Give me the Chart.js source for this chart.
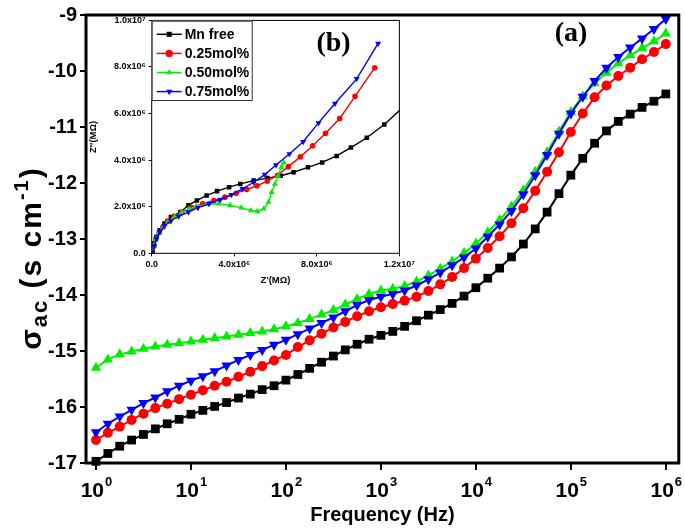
<!DOCTYPE html>
<html>
<head>
<meta charset="utf-8">
<script src="https://cdn.jsdelivr.net/npm/chart.js@4.4.0/dist/chart.umd.min.js"></script>
<style>
  body { margin: 0; background: #fff; }
  #wrap { position: relative; width: 685px; height: 528px; }
  #main { position: absolute; left: 0; top: 0; }
  #inset { position: absolute; left: 88px; top: 12px; }
</style>
</head>
<body>
<div id="wrap">
  <canvas id="main" width="685" height="528"></canvas>
  <canvas id="inset" width="330" height="282"></canvas>
</div>
<script>
// (a) conductivity vs frequency
const freq = [
  1, 1.334, 1.778, 2.371, 3.162, 4.217, 5.623, 7.499,
  10, 13.34, 17.78, 23.71, 31.62, 42.17, 56.23, 74.99,
  100, 133.4, 177.8, 237.1, 316.2, 421.7, 562.3, 749.9,
  1000, 1334, 1778, 2371, 3162, 4217, 5623, 7499,
  10000, 13340, 17780, 23710, 31620, 42170, 56230, 74990,
  100000, 133400, 177800, 237100, 316200, 421700, 562300, 749900,
  1000000
];
const mnFree = [
  -16.97, -16.83, -16.70, -16.59, -16.49, -16.39, -16.30, -16.22, -16.13, -16.06, -15.99, -15.92, -15.84, -15.77, -15.69, -15.62, -15.52,
  -15.42, -15.31, -15.20, -15.09, -14.98, -14.88, -14.79, -14.72, -14.65, -14.56, -14.46, -14.36, -14.26, -14.15, -14.02, -13.87,
  -13.70, -13.52, -13.32, -13.09, -12.82, -12.52, -12.19, -11.86, -11.56, -11.29, -11.07, -10.90, -10.77, -10.65, -10.54, -10.41
];
const mol025 = [
  -16.59, -16.46, -16.35, -16.23, -16.12, -16.02, -15.94, -15.86, -15.78, -15.70, -15.62, -15.55, -15.46, -15.37, -15.27, -15.17, -15.07,
  -14.93, -14.81, -14.69, -14.58, -14.48, -14.38, -14.29, -14.22, -14.16, -14.10, -14.03, -13.93, -13.81, -13.68, -13.52, -13.35,
  -13.16, -12.95, -12.72, -12.45, -12.14, -11.80, -11.45, -11.09, -10.76, -10.47, -10.26, -10.09, -9.94, -9.79, -9.66, -9.52
];
const mol050 = [
  -15.30, -15.15, -15.06, -15.01, -14.96, -14.92, -14.89, -14.86, -14.83, -14.80, -14.77, -14.74, -14.71, -14.68, -14.65, -14.61, -14.56,
  -14.50, -14.43, -14.35, -14.27, -14.17, -14.07, -13.98, -13.92, -13.89, -13.84, -13.76, -13.65, -13.53, -13.40, -13.25, -13.08,
  -12.88, -12.66, -12.42, -12.13, -11.80, -11.45, -11.08, -10.73, -10.45, -10.22, -10.03, -9.86, -9.72, -9.59, -9.47, -9.33
];
const mol075 = [
  -16.45, -16.30, -16.17, -16.05, -15.93, -15.83, -15.72, -15.62, -15.53, -15.45, -15.36, -15.26, -15.16, -15.07, -14.98, -14.89, -14.80,
  -14.70, -14.60, -14.50, -14.40, -14.29, -14.18, -14.09, -14.03, -13.98, -13.92, -13.83, -13.72, -13.60, -13.47, -13.33, -13.17,
  -12.96, -12.74, -12.50, -12.20, -11.86, -11.50, -11.12, -10.76, -10.46, -10.18, -9.94, -9.75, -9.58, -9.42, -9.25, -9.07
];
const seriesNames = ["Mn free", "0.25mol%", "0.50mol%", "0.75mol%"];
const xExponents = [0, 1, 2, 3, 4, 5, 6];

// (b) Nyquist inset, Z' and Z'' in units of 10^6
const nyqMnFreeRe = [0.02, 0.05, 0.11, 0.23, 0.39, 0.62, 0.93, 1.39, 1.78, 2.19, 2.66, 3.17, 3.75, 4.29, 4.94, 5.61, 6.25, 6.87, 7.57, 8.26, 8.96, 9.65, 10.42, 11.27, 12.15];
const nyqMnFreeIm = [0.0, 0.07, 0.43, 0.71, 0.99, 1.28, 1.56, 1.77, 2.06, 2.27, 2.48, 2.67, 2.84, 2.98, 3.12, 3.23, 3.33, 3.48, 3.69, 3.90, 4.18, 4.54, 4.96, 5.53, 6.25];
const nyq025Re = [0.02, 0.11, 0.20, 0.36, 0.54, 0.77, 1.08, 1.47, 1.93, 2.47, 3.01, 3.55, 4.09, 4.60, 5.10, 5.60, 6.10, 6.62, 7.20, 7.80, 8.42, 9.11, 9.85, 10.81];
const nyq025Im = [0.0, 0.31, 0.60, 0.88, 1.13, 1.38, 1.59, 1.77, 1.96, 2.13, 2.27, 2.41, 2.58, 2.74, 2.90, 3.10, 3.35, 3.72, 4.14, 4.62, 5.15, 5.79, 6.74, 7.97];
const nyq050Re = [0.02, 0.10, 0.20, 0.35, 0.55, 0.80, 1.10, 1.45, 1.80, 2.15, 2.64, 3.25, 3.80, 4.34, 4.81, 5.12, 5.43, 5.66, 5.81, 5.97, 6.12, 6.28, 6.40];
const nyq050Im = [0.0, 0.35, 0.62, 0.88, 1.12, 1.35, 1.55, 1.75, 1.90, 2.02, 2.10, 2.13, 2.06, 1.96, 1.84, 1.81, 1.91, 2.20, 2.62, 2.98, 3.33, 3.69, 3.90];
const nyq075Re = [0.03, 0.11, 0.23, 0.39, 0.62, 0.93, 1.31, 1.78, 2.24, 2.78, 3.32, 3.86, 4.40, 4.94, 5.48, 6.02, 6.67, 7.34, 8.08, 8.88, 9.93, 10.97];
const nyq075Im = [0.0, 0.31, 0.64, 0.92, 1.18, 1.39, 1.59, 1.77, 1.96, 2.13, 2.30, 2.51, 2.77, 3.05, 3.38, 3.79, 4.26, 4.79, 5.60, 6.43, 7.49, 9.01];

const colors = ["#000000", "#ff0000", "#00ee00", "#0000ff"];
const styles = ["rect", "circle", "triangle", "triangle"];
const rotations = [0, 0, 0, 180];
const drawOrder = [3, 2, 1, 0];

Chart.defaults.font.family = "'Liberation Sans', Arial, sans-serif";
Chart.defaults.color = "#000";

const sup = { "0": "⁰", "1": "¹", "2": "²", "3": "³", "4": "⁴", "5": "⁵", "6": "⁶", "7": "⁷", "8": "⁸", "9": "⁹", "-": "⁻" };
function sci(v) {
  if (v === 0) return "0.0";
  const e = Math.floor(Math.log10(v) + 1e-9);
  const m = v / Math.pow(10, e);
  return m.toFixed(1) + "x10" + String(e).split("").map(c => sup[c]).join("");
}

// main chart
const mainSeries = [mnFree, mol025, mol050, mol075];
const mainSizes = [6.2, 5, 6, 6];

const mainDecor = {
  id: "mainDecor",
  afterDraw(chart) {
    const { ctx, chartArea: a, scales } = chart;
    ctx.save();
    ctx.strokeStyle = "#000";
    ctx.lineWidth = 3;
    ctx.strokeRect(a.left, a.top, a.right - a.left, a.bottom - a.top);
    ctx.fillStyle = "#000";
    ctx.textBaseline = "alphabetic";
    xExponents.forEach(e => {
      const px = scales.x.getPixelForValue(Math.pow(10, e));
      ctx.font = "bold 21px 'Liberation Sans', Arial, sans-serif";
      ctx.textAlign = "right";
      ctx.fillText("10", px + 8, 497);
      ctx.font = "bold 13px 'Liberation Sans', Arial, sans-serif";
      ctx.textAlign = "left";
      ctx.fillText(String(e), px + 9, 486);
    });
    ctx.font = "bold 20px 'Liberation Sans', Arial, sans-serif";
    ctx.textAlign = "center";
    ctx.fillText("Frequency (Hz)", (a.left + a.right) / 2, 521);

    // y title with sub/superscript
    const parts = [
      { t: "σ", s: 30, dy: 0 },
      { t: "ac", s: 22, dy: 6 },
      { t: " (s cm", s: 30, dy: 0 },
      { t: "-1", s: 20, dy: -13 },
      { t: ")", s: 30, dy: 0 }
    ];
    ctx.letterSpacing = "2px";
    let total = 0;
    parts.forEach(p => {
      ctx.font = "bold " + p.s + "px 'Liberation Sans', Arial, sans-serif";
      p.w = ctx.measureText(p.t).width;
      total += p.w;
    });
    ctx.translate(30, 258);
    ctx.rotate(-Math.PI / 2);
    ctx.textAlign = "left";
    let x = -total / 2;
    parts.forEach(p => {
      ctx.font = "bold " + p.s + "px 'Liberation Sans', Arial, sans-serif";
      ctx.fillText(p.t, x, 11 + p.dy);
      x += p.w;
    });
    ctx.restore();

    ctx.save();
    ctx.fillStyle = "#000";
    ctx.font = "bold 28px 'Liberation Serif', 'Times New Roman', serif";
    ctx.textAlign = "center";
    ctx.fillText("(a)", 571, 41);
    ctx.restore();
  }
};

new Chart(document.getElementById("main"), {
  type: "line",
  data: {
    datasets: mainSeries.map((vals, k) => ({
      label: seriesNames[k],
      data: freq.map((f, i) => ({ x: f, y: vals[i] })),
      borderColor: colors[k],
      backgroundColor: colors[k],
      pointBackgroundColor: colors[k],
      pointBorderColor: colors[k],
      pointBorderWidth: 0,
      pointStyle: styles[k],
      rotation: rotations[k],
      pointRadius: mainSizes[k],
      borderWidth: 2,
      tension: 0,
      clip: false,
      order: drawOrder[k]
    }))
  },
  options: {
    responsive: false,
    animation: false,
    layout: { padding: { top: 9.5, right: 6, left: 0, bottom: 0 } },
    plugins: { legend: { display: false }, tooltip: { enabled: false } },
    scales: {
      x: {
        type: "logarithmic",
        min: 0.785,
        max: 1.37e6,
        afterBuildTicks: s => { s.ticks = xExponents.map(e => ({ value: Math.pow(10, e) })); },
        afterFit: s => { s.height = 65; },
        ticks: { display: false, autoSkip: false },
        grid: { drawOnChartArea: false, tickLength: 7, lineWidth: 2, color: "#000" },
        border: { display: false }
      },
      y: {
        min: -17,
        max: -9,
        afterFit: s => { s.width = 86; },
        ticks: { stepSize: 1, padding: 3, font: { size: 20, weight: "bold" }, color: "#000" },
        grid: { drawOnChartArea: false, tickLength: 6, lineWidth: 2, color: "#000" },
        border: { display: false }
      }
    }
  },
  plugins: [mainDecor]
});

// inset chart
const insetRe = [nyqMnFreeRe, nyq025Re, nyq050Re, nyq075Re];
const insetIm = [nyqMnFreeIm, nyq025Im, nyq050Im, nyq075Im];
const insetSizes = [3.2, 2.8, 3.5, 3.5];

const insetDecor = {
  id: "insetDecor",
  afterDraw(chart) {
    const { ctx, chartArea: a } = chart;
    ctx.save();
    ctx.strokeStyle = "#000";
    ctx.lineWidth = 1;
    ctx.strokeRect(a.left, a.top, a.right - a.left, a.bottom - a.top);

    // legend
    const bx = a.left, by = 8.7, bw = 100, bh = 79.3;
    ctx.fillStyle = "#fff";
    ctx.fillRect(bx, by, bw, bh);
    ctx.strokeStyle = "#333";
    ctx.strokeRect(bx + 0.5, by + 0.5, bw, bh);
    chart.data.datasets.forEach((ds, k) => {
      const y = 22.3 + k * 19.1;
      ctx.strokeStyle = ds.borderColor;
      ctx.fillStyle = ds.borderColor;
      ctx.lineWidth = 1.5;
      ctx.beginPath();
      ctx.moveTo(bx + 5, y);
      ctx.lineTo(bx + 30, y);
      ctx.stroke();
      Chart.helpers.drawPoint(ctx, { pointStyle: ds.pointStyle, rotation: ds.rotation, radius: 3.6, borderWidth: 0 }, bx + 17.5, y);
      ctx.fillStyle = "#000";
      ctx.font = "bold 14px 'Liberation Sans', Arial, sans-serif";
      ctx.textAlign = "left";
      ctx.textBaseline = "middle";
      ctx.fillText(ds.label, bx + 33, y + 1);
    });

    ctx.fillStyle = "#000";
    ctx.textBaseline = "alphabetic";
    ctx.textAlign = "center";
    ctx.font = "bold 28px 'Liberation Serif', 'Times New Roman', serif";
    ctx.fillText("(b)", 245.5, 39);
    ctx.restore();
  }
};

new Chart(document.getElementById("inset"), {
  type: "scatter",
  data: {
    datasets: insetRe.map((re, k) => ({
      label: seriesNames[k],
      data: re.map((v, i) => ({ x: v * 1e6, y: insetIm[k][i] * 1e6 })),
      showLine: true,
      borderColor: colors[k],
      backgroundColor: colors[k],
      pointBackgroundColor: colors[k],
      pointBorderWidth: 0,
      pointStyle: styles[k],
      rotation: rotations[k],
      pointRadius: insetSizes[k],
      borderWidth: 1.4,
      order: drawOrder[k]
    }))
  },
  options: {
    responsive: false,
    animation: false,
    layout: { padding: { top: 6.3, right: 7.3, left: 0, bottom: 0 } },
    plugins: { legend: { display: false }, tooltip: { enabled: false } },
    scales: {
      x: {
        type: "linear",
        min: 0,
        max: 1.2e7,
        afterFit: s => { s.height = 40.7; },
        ticks: { stepSize: 4e6, padding: 3, callback: v => sci(v), font: { size: 9, weight: "bold" }, color: "#000", maxRotation: 0 },
        grid: { drawOnChartArea: false, tickLength: 3, color: "#000" },
        border: { display: false },
        title: { display: true, text: "Z'(MΩ)", font: { size: 9.5, weight: "bold" }, color: "#000", padding: { top: 2, bottom: 8 } }
      },
      y: {
        min: 0,
        max: 1e7,
        afterFit: s => { s.width = 63.7; },
        ticks: { stepSize: 2e6, padding: 3, callback: v => sci(v), font: { size: 9, weight: "bold" }, color: "#000" },
        grid: { drawOnChartArea: false, tickLength: 3, color: "#000" },
        border: { display: false },
        title: { display: true, text: "Z''(MΩ)", font: { size: 9.5, weight: "bold" }, color: "#000", padding: { top: 0, bottom: 0 } }
      }
    }
  },
  plugins: [insetDecor]
});
</script>
</body>
</html>
